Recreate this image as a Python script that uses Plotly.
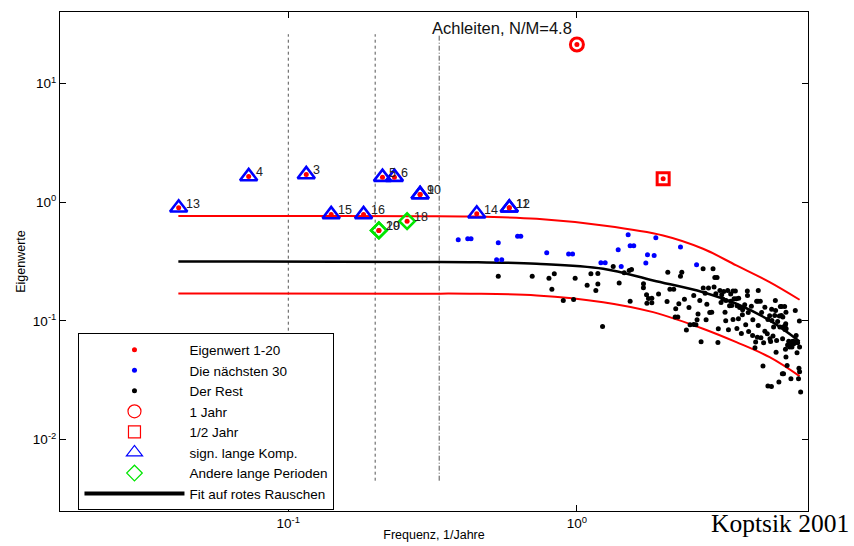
import math
import plotly.graph_objects as go

# ---------------- data ----------------
# leading eigenvalues 1-20 (frequency 1/year, eigenvalue)
circle_f = [1.0]            # 1 year (eigen 1,2)
circle_v = [21.3]
square_f = [1.99]           # 1/2 year (eigen 7,8)
square_v = [1.575]
tri_f = [0.0417, 0.0729, 0.1154, 0.212, 0.2332, 0.2862, 0.2862, 0.1408, 0.1823, 0.4497, 0.583, 0.583]
tri_v = [0.897, 1.646, 1.712, 1.624, 1.624, 1.161, 1.161, 0.788, 0.788, 0.798, 0.897, 0.897]
tri_lbl = ['13', '4', '3', '5', '6', '9', '10', '15', '16', '14', '11', '12']
dia_f = [0.206, 0.206, 0.258]
dia_v = [0.578, 0.578, 0.692]
dia_lbl = ['20', '19', '18']

eig_f = circle_f + square_f + tri_f + dia_f
eig_v = circle_v + square_v + tri_v + dia_v

# next 30 eigenvalues
blue_f = [0.388, 0.4185, 0.4297, 0.534, 0.527, 0.549, 0.623, 0.639, 0.786, 0.936, 0.966, 1.211,
          1.253, 1.505, 1.39, 1.529, 1.574, 1.756, 1.852, 1.733, 1.424, 1.877, 2.285, 2.598]
blue_v = [0.482, 0.491, 0.491, 0.455, 0.327, 0.327, 0.517, 0.517, 0.3746, 0.365, 0.365, 0.3085,
          0.3085, 0.531, 0.397, 0.429, 0.429, 0.3605, 0.3557, 0.3066, 0.287, 0.501, 0.418, 0.297]

# the rest
rest_f = [0.534, 0.700, 0.800, 0.835, 0.819, 0.897, 0.974, 0.986, 1.085, 1.118, 1.182, 1.182, 1.163,
          1.227, 1.336, 1.401, 1.458, 1.518, 1.546, 1.529, 1.701, 1.700, 1.743, 1.770, 1.818, 1.748,
          1.818, 1.918, 2.053, 2.065, 2.100, 2.165, 2.200, 2.190, 2.237, 2.255, 2.285, 2.309, 2.358,
          2.395, 2.445, 2.466, 2.539, 2.585, 2.540, 2.608, 2.628, 2.665, 2.693, 2.737, 2.740, 2.782,
          2.803, 2.820, 2.857, 2.886, 2.932, 2.963, 2.987, 3.005, 3.059, 3.030, 3.080, 3.090, 3.130,
          3.158, 3.175, 3.209, 3.226, 3.260, 3.278, 3.285, 3.330, 3.350, 3.380, 3.410, 3.410, 3.438,
          3.475, 3.475, 3.503, 3.540, 3.567, 3.584, 3.590, 3.628, 3.635, 3.664, 3.714, 3.744, 3.750,
          3.814, 3.845, 3.895, 3.900, 3.924, 3.936, 4.022, 4.063, 4.070, 4.139, 4.162, 4.196, 4.220,
          4.240, 4.250, 4.250, 4.320, 4.342, 4.366, 4.413, 4.435, 4.480, 4.480, 4.567, 4.590, 4.654,
          4.665, 4.690, 4.729, 4.740, 4.780, 4.803, 4.845, 4.870, 4.880, 4.899, 4.920, 4.960, 5.010,
          5.030, 5.050, 5.070, 5.110, 5.120, 5.150, 5.160, 5.170, 5.180, 5.200, 5.245, 5.260, 5.270,
          5.280, 5.290, 5.300, 5.300, 5.310, 5.350, 5.370, 5.420, 5.458, 5.515, 5.545, 5.560, 5.570,
          5.620, 5.640, 5.710, 5.750, 5.760, 5.790, 5.820, 5.880, 5.900, 5.910, 5.910, 5.960, 4.720,
          4.590, 5.860]
rest_v = [0.237, 0.237, 0.229, 0.249, 0.185, 0.1485, 0.151, 0.229, 0.199, 0.249, 0.250, 0.204, 0.180,
          0.0897, 0.287, 0.208, 0.254, 0.266, 0.271, 0.1466, 0.205, 0.190, 0.166, 0.1545, 0.155, 0.141,
          0.142, 0.168, 0.1457, 0.257, 0.185, 0.185, 0.1264, 0.1075, 0.1075, 0.139, 0.237, 0.257, 0.1524,
          0.0836, 0.1297, 0.0927, 0.093, 0.0927, 0.1637, 0.1022, 0.114, 0.1485, 0.0667, 0.275, 0.1887, 0.171,
          0.1022, 0.1383, 0.1887, 0.1178, 0.118, 0.275, 0.1924, 0.2324, 0.2324, 0.169, 0.0658, 0.0859, 0.1803,
          0.1429, 0.166, 0.1524, 0.1768, 0.118, 0.1002, 0.1485, 0.1803, 0.0842, 0.134, 0.168, 0.1466, 0.1348,
          0.178, 0.1028, 0.1536, 0.178, 0.1536, 0.0864, 0.134, 0.1042, 0.155, 0.1297, 0.0783, 0.1126, 0.124,
          0.1366, 0.0927, 0.178, 0.1637, 0.1178, 0.0814, 0.133, 0.0754, 0.1022, 0.0594, 0.0662, 0.1466, 0.0729,
          0.1466, 0.1803, 0.0915, 0.1466, 0.072, 0.1178, 0.0416, 0.0654, 0.1304, 0.0819, 0.0779, 0.1028, 0.1104,
          0.0706, 0.0671, 0.1255, 0.1008, 0.0744, 0.0886, 0.1111, 0.1485, 0.1224, 0.0545, 0.0684, 0.0989, 0.0305,
          0.1097, 0.0886, 0.1322, 0.1111, 0.1322, 0.0358, 0.0706, 0.1075, 0.0886, 0.0358, 0.1322, 0.0847, 0.0915,
          0.0575, 0.0946, 0.118, 0.0495, 0.0859, 0.0421, 0.0625, 0.0672, 0.0601, 0.0325, 0.0642, 0.0601, 0.0671,
          0.0672, 0.0642, 0.1224, 0.0754, 0.0662, 0.0538, 0.0654, 0.0398, 0.0995, 0.0372, 0.0601, 0.0251, 0.0280,
          0.0282, 0.0325]

# red-noise fit and its bounds
upper_f = [0.0416, 0.110, 0.286, 0.426, 0.7253, 1.233, 1.989, 2.735, 3.569, 4.654, 5.91]
upper_v = [0.765, 0.765, 0.762, 0.758, 0.725, 0.636, 0.524, 0.405, 0.293, 0.212, 0.1506]
fit_f = [0.0416, 0.286, 0.426, 0.7253, 1.233, 1.837, 2.735, 3.569, 4.654, 5.91]
fit_v = [0.3165, 0.3134, 0.3122, 0.3027, 0.2748, 0.2189, 0.1744, 0.1393, 0.1008, 0.0671]
low_f = [0.0416, 0.286, 0.426, 0.7253, 1.233, 1.837, 2.735, 3.569, 4.654, 5.91]
low_v = [0.1701, 0.1695, 0.1692, 0.1637, 0.1437, 0.1184, 0.0858, 0.0661, 0.0494, 0.0342]

# vertical reference lines (frequency) and their extent
vline_f = [0.1, 0.2, 1 / 3]
vline_dash = ['3px,3px', '3px,3px', '5px,2px,1px,2px']
vline_v = [0.0045, 26]

x_range = [0.01618, 6.32]
y_range = [0.0025, 40]
x_ticks = [0.1, 1]
x_ticktext = ['10<sup>-1</sup>', '10<sup>0</sup>']
y_ticks = [0.01, 0.1, 1, 10]
y_ticktext = ['10<sup>-2</sup>', '10<sup>-1</sup>', '10<sup>0</sup>', '10<sup>1</sup>']

title_text = 'Achleiten, N/M=4.8'
title_pos = (0.55, 29.6)

RED = '#ff0000'
BLUE = '#0000ff'
GREEN = '#00e600'
FONT = 'Liberation Sans, Arial, sans-serif'

fig = go.Figure()

# vertical dotted lines
for xf, dsh in zip(vline_f, vline_dash):
    fig.add_trace(go.Scatter(x=[xf, xf], y=vline_v, mode='lines', showlegend=False,
                             line=dict(color='#555555', width=1, dash=dsh), hoverinfo='skip'))

# bounds and fit
fig.add_trace(go.Scatter(x=upper_f, y=upper_v, mode='lines', showlegend=False,
                         line=dict(color=RED, width=2, shape='spline')))
fig.add_trace(go.Scatter(x=low_f, y=low_v, mode='lines', showlegend=False,
                         line=dict(color=RED, width=2, shape='spline')))
fig.add_trace(go.Scatter(x=fit_f, y=fit_v, mode='lines', showlegend=False,
                         line=dict(color='black', width=2.5, shape='spline')))

# points
fig.add_trace(go.Scatter(x=rest_f, y=rest_v, mode='markers', name='Der Rest', legendrank=3,
                         marker=dict(color='black', size=5)))
fig.add_trace(go.Scatter(x=blue_f, y=blue_v, mode='markers', name='Die nächsten 30', legendrank=2,
                         marker=dict(color=BLUE, size=5)))

fig.add_trace(go.Scatter(x=circle_f, y=circle_v, mode='markers', showlegend=False,
                         marker=dict(symbol='circle-open', size=13, color=RED, line=dict(width=3, color=RED))))
fig.add_trace(go.Scatter(x=square_f, y=square_v, mode='markers', showlegend=False,
                         marker=dict(symbol='square-open', size=12, color=RED, line=dict(width=3, color=RED))))
fig.add_trace(go.Scatter(x=tri_f, y=tri_v, mode='markers', showlegend=False,
                         marker=dict(symbol='triangle-up-open', size=15, color=BLUE, line=dict(width=2.6, color=BLUE))))
fig.add_trace(go.Scatter(x=dia_f, y=dia_v, mode='markers', showlegend=False,
                         marker=dict(symbol='diamond-open', size=12, color=GREEN, line=dict(width=2.6, color=GREEN))))

fig.add_trace(go.Scatter(x=eig_f, y=eig_v, mode='markers', name='Eigenwert 1-20', legendrank=1,
                         marker=dict(color=RED, size=5)))

# legend-only entries (thin symbols as in the original legend)
fig.add_trace(go.Scatter(x=[None], y=[None], mode='markers', name='1 Jahr', legendrank=4,
                         marker=dict(symbol='circle-open', size=13, color=RED, line=dict(width=1.2, color=RED))))
fig.add_trace(go.Scatter(x=[None], y=[None], mode='markers', name='1/2 Jahr', legendrank=5,
                         marker=dict(symbol='square-open', size=12, color=RED, line=dict(width=1.2, color=RED))))
fig.add_trace(go.Scatter(x=[None], y=[None], mode='markers', name='sign. lange Komp.', legendrank=6,
                         marker=dict(symbol='triangle-up-open', size=14, color=BLUE, line=dict(width=1.2, color=BLUE))))
fig.add_trace(go.Scatter(x=[None], y=[None], mode='markers', name='Andere lange Perioden', legendrank=7,
                         marker=dict(symbol='diamond-open', size=12, color=GREEN, line=dict(width=1.2, color=GREEN))))
fig.add_trace(go.Scatter(x=[None], y=[None], mode='lines', name='Fit auf rotes Rauschen', legendrank=8,
                         line=dict(color='black', width=4)))

# number labels
annotations = []
for f, v, t in list(zip(tri_f, tri_v, tri_lbl)) + list(zip(dia_f, dia_v, dia_lbl)):
    annotations.append(dict(x=math.log10(f), y=math.log10(v), xref='x', yref='y', text=t,
                            showarrow=False, xanchor='left', yanchor='middle', xshift=5, yshift=4,
                            font=dict(family=FONT, size=12.5, color='#222222')))
annotations.append(dict(x=math.log10(title_pos[0]), y=math.log10(title_pos[1]), xref='x', yref='y',
                        text=title_text, showarrow=False, xanchor='center', yanchor='middle',
                        font=dict(family=FONT, size=16.5, color='#111111')))
annotations.append(dict(x=0.8672, y=-0.025, xref='paper', yref='paper', text='Koptsik 2001',
                        showarrow=False, xanchor='left', yanchor='middle',
                        font=dict(family='Liberation Serif, Times New Roman, serif', size=25.5, color='black')))

axis_common = dict(type='log', showline=True, linecolor='black', linewidth=1, mirror='ticks',
                   ticks='inside', ticklen=6, tickcolor='black',
                   showgrid=False, zeroline=False, tickfont=dict(family=FONT, size=13.5, color='black'))

fig.update_layout(
    width=854, height=546,
    margin=dict(l=59.5, r=45.5, t=11.5, b=35.4, autoexpand=False),
    paper_bgcolor='white', plot_bgcolor='white',
    font=dict(family=FONT, size=11, color='black'),
    xaxis=dict(range=[math.log10(x_range[0]), math.log10(x_range[1])],
               tickmode='array', tickvals=x_ticks, ticktext=x_ticktext,
               title=dict(text='Frequenz, 1/Jahre', font=dict(size=12.5), standoff=0), **axis_common),
    yaxis=dict(range=[math.log10(y_range[0]), math.log10(y_range[1])],
               tickmode='array', tickvals=y_ticks, ticktext=y_ticktext,
               title=dict(text='Eigenwerte', font=dict(size=12.5), standoff=4), **axis_common),
    legend=dict(x=0.0247, y=0.1785, xanchor='left', yanchor='middle', bordercolor='black', borderwidth=1,
                bgcolor='white', itemwidth=100, font=dict(family=FONT, size=13.5, color='black'),
                itemsizing='trace', tracegroupgap=0),
    annotations=annotations,
)

fig.write_html('out.html')
